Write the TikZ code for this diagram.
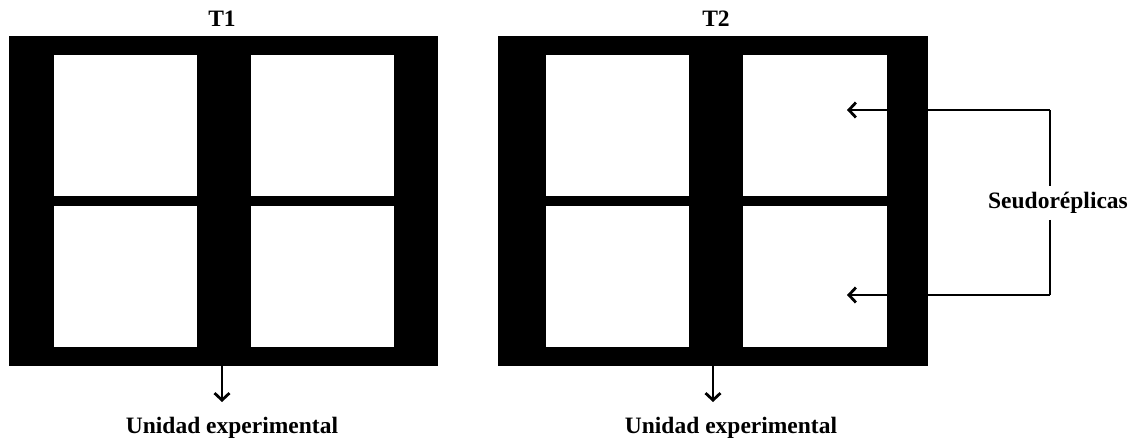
\documentclass[tikz,border=0pt]{standalone}
\usepackage{fontspec}
\setmainfont{Liberation Serif}
\usetikzlibrary{arrows.meta}
\begin{document}
\begin{tikzpicture}[x=1pt,y=-1pt,
  blackbox/.style={fill=black,draw=none,inner sep=0pt,outer sep=0pt,rectangle},
  cell/.style={fill=white,draw=none,inner sep=0pt,outer sep=0pt,rectangle,minimum width=143pt,minimum height=141pt},
  lbl/.style={font=\fontsize{23.5}{28}\selectfont\bfseries,inner sep=0pt},
  arr/.style={line width=2.8pt,-{Straight Barb[length=7pt,width=15pt,line width=2.8pt]}},
  brk/.style={line width=2.8pt}]
\useasboundingbox (0,0) rectangle (1138,438);
\fill[white] (0,0) rectangle (1138,438);
% left block
\node[blackbox,minimum width=429pt,minimum height=330pt] (B1) at (223.5,201) {};
\node[cell] (c11) at (125.5,125.5) {};
\node[cell] (c12) at (322.5,125.5) {};
\node[cell] (c13) at (125.5,276.5) {};
\node[cell] (c14) at (322.5,276.5) {};
% right block
\node[blackbox,minimum width=430pt,minimum height=330pt] (B2) at (713,201) {};
\node[cell] (c21) at (617.5,125.5) {};
\node[cell,minimum width=144pt] (c22) at (815,125.5) {};
\node[cell] (c23) at (617.5,276.5) {};
\node[cell,minimum width=144pt] (c24) at (815,276.5) {};
% titles
\node[lbl,anchor=base] (t1) at (222,27) {T1};
\node[lbl,anchor=base] (t2) at (716,27) {T2};
% unidad experimental
\coordinate (a1) at (222,402);
\coordinate (a2) at (713,402);
\node[lbl,anchor=base] (u1) at (232,433) {Unidad experimental};
\node[lbl,anchor=base] (u2) at (731,433) {Unidad experimental};
\draw[arr] (B1.south -| a1) -- (a1);
\draw[arr] (B2.south -| a2) -- (a2);
% seudoreplicas
\node[lbl] (s) at (1058,203) {Seudoréplicas};
\coordinate (k1) at (1050,110);
\coordinate (k2) at (1050,295);
\coordinate (p1) at (847,110);
\coordinate (p2) at (847,295);
\draw[brk] (1050,186) -- (k1);
\draw[arr] (k1) -- (p1);
\draw[brk] (1050,220) -- (k2);
\draw[arr] (k2) -- (p2);
\end{tikzpicture}
\end{document}
